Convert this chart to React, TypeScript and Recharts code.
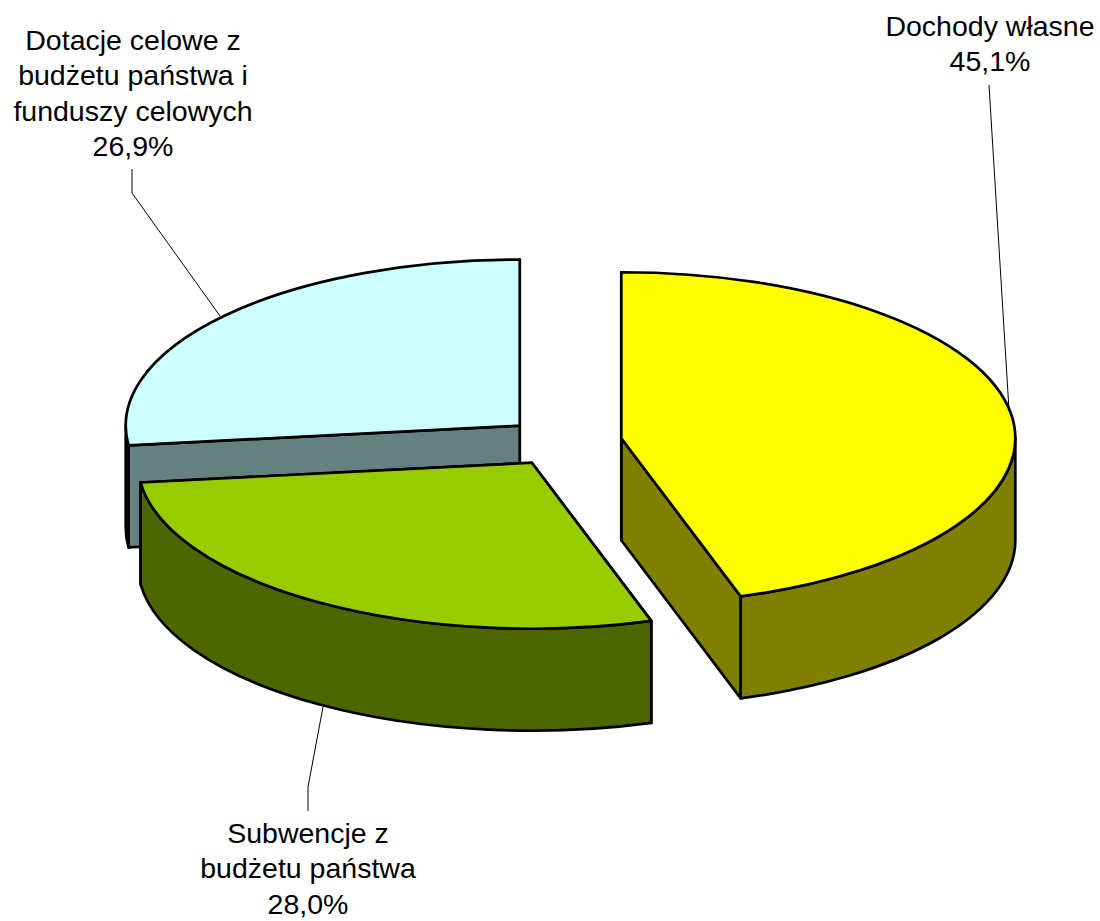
import { Pie, PieChart } from 'recharts'

const categories = ['Dotacje celowe z budżetu państwa i funduszy celowych', 'Subwencje z budżetu państwa', 'Dochody własne']
const shares = [26.9, 28.0, 45.1]
const percentLabels = ['26,9%', '28,0%', '45,1%']

const labelLines = [
  ['Dotacje celowe z', 'budżetu państwa i', 'funduszy celowych'],
  ['Subwencje z', 'budżetu państwa'],
  ['Dochody własne'],
]

const topColors = ['#ccffff', '#99cc00', '#ffff00']
const sideColors = ['#668080', '#4d6600', '#808000']

// where each label sits and how its leader runs, in page pixels
const labelLayout = [
  { x: 133, y: 50, leader: '132,169 132,193 220,316' },
  { x: 308, y: 843, leader: '308,811 308,787 323,707' },
  { x: 990, y: 36, leader: '989,85 1009,410' },
]

const CX = 563.5
const CY = 442
const RX = 394
const TILT = 0.4213
const DEPTH = 102
const EXPLODE = 58.5

const rad = (deg: number) => (deg * Math.PI) / 180

function Slice3D(props: any) {
  const { startAngle, endAngle, index, cx, cy, outerRadius } = props
  const ry = outerRadius * TILT
  const mid = rad((startAngle + endAngle) / 2)
  const ox = cx + EXPLODE * Math.cos(mid)
  const oy = cy - EXPLODE * TILT * Math.sin(mid)
  const pt = (deg: number, drop = 0) =>
    `${ox + outerRadius * Math.cos(rad(deg))},${oy - ry * Math.sin(rad(deg)) + drop}`

  const arc = (from: number, to: number, drop = 0) => {
    const large = Math.abs(to - from) > 180 ? 1 : 0
    const sweep = to > from ? 0 : 1
    return `A${outerRadius},${ry} 0 ${large} ${sweep} ${pt(to, drop)}`
  }

  const face = (deg: number) =>
    `M${ox},${oy} L${pt(deg)} L${pt(deg, DEPTH)} L${ox},${oy + DEPTH} Z`

  // only the part of the rim on the front half of the ellipse shows
  const wallFrom = Math.max(startAngle, 180)
  const wallTo = Math.min(endAngle, 360)
  const side = sideColors[index]
  const line = { stroke: '#000', strokeWidth: 2.7, strokeLinejoin: 'round' as const }

  return (
    <g>
      <path d={face(startAngle)} fill={side} {...line} />
      <path d={face(endAngle)} fill={side} {...line} />
      {wallTo > wallFrom && (
        <path
          d={`M${pt(wallFrom)} ${arc(wallFrom, wallTo)} L${pt(wallTo, DEPTH)} ${arc(wallTo, wallFrom, DEPTH)} Z`}
          fill={side}
          {...line}
        />
      )}
      <path
        d={`M${ox},${oy} L${pt(startAngle)} ${arc(startAngle, endAngle)} Z`}
        fill={topColors[index]}
        {...line}
      />
    </g>
  )
}

function SliceLabel({ index }: any) {
  const { x, y, leader } = labelLayout[index]
  const rows = [...labelLines[index], percentLabels[index]]
  return (
    <g>
      <polyline points={leader} fill="none" stroke="#000" strokeWidth={1} />
      <text x={x} y={y} textAnchor="middle" fontFamily="Liberation Sans" fontSize={28.5} fill="#000">
        {rows.map((row, i) => (
          <tspan key={row} x={x} dy={i === 0 ? 0 : 35.3}>
            {row}
          </tspan>
        ))}
      </text>
    </g>
  )
}

const data = categories.map((name, i) => ({ name, value: shares[i] }))

export default function App() {
  return (
    <div style={{ position: 'absolute', left: 0, top: 0 }}>
      <PieChart width={1100} height={921} margin={{ top: 0, right: 0, bottom: 0, left: 0 }}>
        <Pie
          data={data}
          dataKey="value"
          nameKey="name"
          cx={CX}
          cy={CY}
          innerRadius={0}
          outerRadius={RX}
          startAngle={90}
          endAngle={450}
          shape={Slice3D}
          label={SliceLabel}
          labelLine={false}
          isAnimationActive={false}
        />
      </PieChart>
    </div>
  )
}
